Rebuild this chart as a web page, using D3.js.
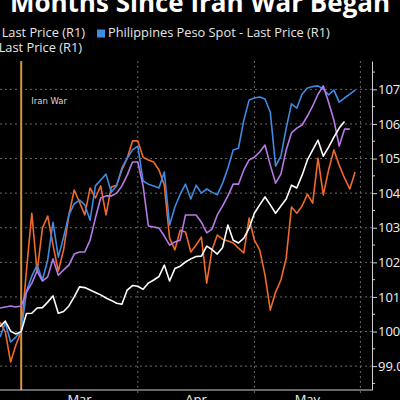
<!DOCTYPE html>
<html>
<head>
<meta charset="utf-8">
<script src="https://cdn.jsdelivr.net/npm/d3@7"></script>
<style>
  body { margin: 0; background: #000; }
  svg { display: block; background: #000; }
</style>
</head>
<body>
<div id="chart"></div>
<script>
// values, one point per trading day
var orangeVals = [100.27, 99.99, 99.12, 99.61, 100.00, 101.78, 103.42, 101.72, 102.99, 103.34,
    102.50, 101.75, 102.36, 103.37, 104.09, 103.74, 103.37, 104.15, 103.86, 104.21,
    103.37, 104.18, 104.23, 104.67, 105.01, 105.51, 105.51, 105.04, 104.96, 104.90,
    104.67, 104.23, 102.70, 102.36, 102.93, 102.88, 102.30, 102.50, 102.73, 101.40,
    102.36, 102.79, 102.67, 102.62, 102.56, 102.41, 102.27, 103.28, 102.64, 102.36,
    101.63, 100.62, 101.14, 101.49, 102.12, 103.60, 103.42, 103.63, 103.97, 103.71,
    105.01, 103.95, 104.67, 105.25, 104.81, 104.44, 104.12, 104.61];

var blueVals = [99.84, 100.25, 99.70, 99.84, 100.00, 101.17, 101.60, 101.92, 101.49, 102.07,
    103.16, 102.15, 102.73, 103.37, 103.69, 103.80, 103.66, 103.22, 104.21, 104.38,
    104.55, 104.03, 104.21, 104.73, 105.01, 105.25, 105.36, 104.35, 104.26, 104.21,
    104.15, 104.61, 103.08, 103.60, 103.97, 104.26, 103.83, 104.23, 104.00, 104.12,
    104.03, 103.95, 104.29, 104.73, 105.25, 105.30, 106.11, 106.69, 106.75, 106.78,
    106.72, 106.34, 104.78, 105.07, 105.88, 106.58, 106.46, 106.86, 107.04, 107.08,
    107.10, 107.01, 106.84, 106.98, 106.63, 106.75, 106.86, 106.98];

var purpleVals = [100.68, 100.71, 100.74, 100.71, 100.74, 101.14, 101.40, 101.75, 101.46, 101.58,
    102.10, 101.63, 101.78, 101.92, 102.24, 102.30, 102.30, 102.64, 103.28, 103.86,
    103.92, 103.92, 104.00, 104.21, 104.52, 104.90, 104.90, 104.21, 103.05, 103.02,
    102.99, 102.76, 102.50, 102.59, 102.64, 103.37, 103.37, 103.37, 103.16, 102.85,
    102.96, 103.37, 103.63, 103.92, 104.26, 104.26, 104.67, 104.96, 105.04, 105.19,
    105.39, 104.81, 104.29, 104.55, 105.25, 105.74, 105.88, 105.97, 106.23, 106.52,
    106.86, 107.10, 106.63, 106.11, 105.36, 105.85, 105.85];

var whiteVals = [100.14, 100.30, 100.01, 99.93, 100.00, 100.52, 100.53, 100.68, 100.69, 100.85,
    101.03, 100.53, 100.58, 100.74, 101.00, 101.29, 101.27, 101.20, 101.13, 101.06,
    100.97, 100.90, 100.82, 100.79, 101.20, 101.33, 101.31, 101.22, 101.40, 101.49,
    101.59, 101.92, 101.46, 101.82, 101.89, 102.01, 102.10, 102.17, 102.18, 102.47,
    102.37, 102.24, 102.43, 103.08, 102.64, 102.56, 102.70, 102.99, 103.42, 103.66,
    103.89, 103.66, 103.42, 103.63, 103.83, 104.23, 104.15, 104.52, 104.96, 105.25,
    105.53, 105.07, 105.33, 105.62, 105.88, 106.07];

var yTicks = [99, 100, 101, 102, 103, 104, 105, 106, 107];
var monthStarts = [4, 26, 48, 68];      // trading-day index where each month begins
var monthLabels = ['Mar', 'Apr', 'May'];
var warIndex = 4;

var legendRow1 = ['Korean Won Spot - Last Price (R1)', 'Philippines Peso Spot - Last Price (R1)'];
var legendRow2 = ['Indian Rupee Spot - Last Price (R1)'];

var W = 400, H = 400;
var plotTop = 61, plotBottom = 390, plotRight = 372;

var svg = d3.select('#chart')
    .append('svg')
    .attr('width', W)
    .attr('height', H);

var x = d3.scaleLinear()
    .domain([0, 68])
    .range([0, 360.4]);

var y = d3.scaleLinear()
    .domain([98.31, 107.82])
    .range([plotBottom, plotTop]);

// Title (cut at the top like the original)
svg.append('text')
    .attr('x', 200)
    .attr('y', 12)
    .attr('text-anchor', 'middle')
    .attr('font-family', 'Open Sans, sans-serif')
    .attr('font-weight', 'bold')
    .attr('font-size', 26)
    .attr('fill', '#fff')
    .text('Months Since Iran War Began');

// Legend
var legendFont = 'Open Sans, sans-serif';
var legendSize = 12.8;
svg.append('text')
    .attr('x', 85).attr('y', 37)
    .attr('text-anchor', 'end')
    .attr('font-family', legendFont).attr('font-size', legendSize)
    .attr('fill', '#e6e6e6')
    .text(legendRow1[0]);
svg.append('rect')
    .attr('x', 97).attr('y', 29.5)
    .attr('width', 8).attr('height', 8)
    .attr('fill', '#3e8ee6');
svg.append('text')
    .attr('x', 108).attr('y', 37)
    .attr('font-family', legendFont).attr('font-size', legendSize)
    .attr('fill', '#e6e6e6')
    .text(legendRow1[1]);
svg.append('text')
    .attr('x', 82).attr('y', 52)
    .attr('text-anchor', 'end')
    .attr('font-family', legendFont).attr('font-size', legendSize)
    .attr('fill', '#e6e6e6')
    .text(legendRow2[0]);

// Grid
svg.append('g')
    .selectAll('line')
    .data(yTicks)
    .enter().append('line')
    .attr('x1', 0).attr('x2', plotRight)
    .attr('y1', d => y(d)).attr('y2', d => y(d))
    .attr('stroke', '#6a6a6a')
    .attr('stroke-width', 1)
    .attr('stroke-dasharray', '2,3');

svg.append('g')
    .selectAll('line')
    .data(monthStarts.slice(1))
    .enter().append('line')
    .attr('x1', d => x(d)).attr('x2', d => x(d))
    .attr('y1', plotTop).attr('y2', plotBottom + 4)
    .attr('stroke', '#6a6a6a')
    .attr('stroke-width', 1)
    .attr('stroke-dasharray', '2,3');

// Iran war marker
svg.append('line')
    .attr('x1', x(warIndex)).attr('x2', x(warIndex))
    .attr('y1', plotTop).attr('y2', plotBottom)
    .attr('stroke', '#d4963f')
    .attr('stroke-width', 2);
svg.append('text')
    .attr('x', x(warIndex) + 10)
    .attr('y', 104)
    .attr('font-family', 'DejaVu Sans, sans-serif')
    .attr('font-size', 8.5)
    .attr('fill', '#d8d8d8')
    .text('Iran War');

// Right axis
var yAxis = svg.append('g')
    .attr('transform', 'translate(' + plotRight + ',0)')
    .call(d3.axisRight(y)
        .tickValues(yTicks)
        .tickSize(5)
        .tickSizeOuter(0)
        .tickFormat(d3.format('.1f')));
yAxis.select('.domain').attr('stroke', '#d0d0d0');
yAxis.selectAll('.tick line').attr('stroke', '#d0d0d0');
yAxis.selectAll('.tick text')
    .attr('x', 6)
    .attr('fill', '#f0f0f0')
    .attr('font-family', 'Open Sans, sans-serif')
    .attr('font-size', 13);

var minorTicks = yTicks.map(d => d + 0.5).filter(d => d < 107.8).concat([98.5]);
svg.append('g')
    .selectAll('line')
    .data(minorTicks)
    .enter().append('line')
    .attr('x1', plotRight).attr('x2', plotRight + 3)
    .attr('y1', d => y(d)).attr('y2', d => y(d))
    .attr('stroke', '#d0d0d0');

// Bottom axis line
svg.append('line')
    .attr('x1', 0).attr('x2', plotRight)
    .attr('y1', plotBottom).attr('y2', plotBottom)
    .attr('stroke', '#d0d0d0');

svg.append('g')
    .selectAll('text')
    .data(monthLabels)
    .enter().append('text')
    .attr('x', (d, i) => (x(monthStarts[i]) + x(monthStarts[i + 1])) / 2)
    .attr('y', 404)
    .attr('text-anchor', 'middle')
    .attr('font-family', 'Open Sans, sans-serif')
    .attr('font-size', 13)
    .attr('fill', '#f0f0f0')
    .text(d => d);

// Lines
var line = d3.line()
    .x((d, i) => x(i))
    .y(d => y(d));

var series = [
    { vals: orangeVals, color: '#f06a2a' },
    { vals: blueVals, color: '#3f8ae2' },
    { vals: purpleVals, color: '#b77ae8' },
    { vals: whiteVals, color: '#ffffff' }
];

svg.append('g')
    .selectAll('path')
    .data(series)
    .enter().append('path')
    .attr('d', d => line(d.vals))
    .attr('fill', 'none')
    .attr('stroke', d => d.color)
    .attr('stroke-width', 1.6)
    .attr('stroke-linejoin', 'round');
</script>
</body>
</html>
